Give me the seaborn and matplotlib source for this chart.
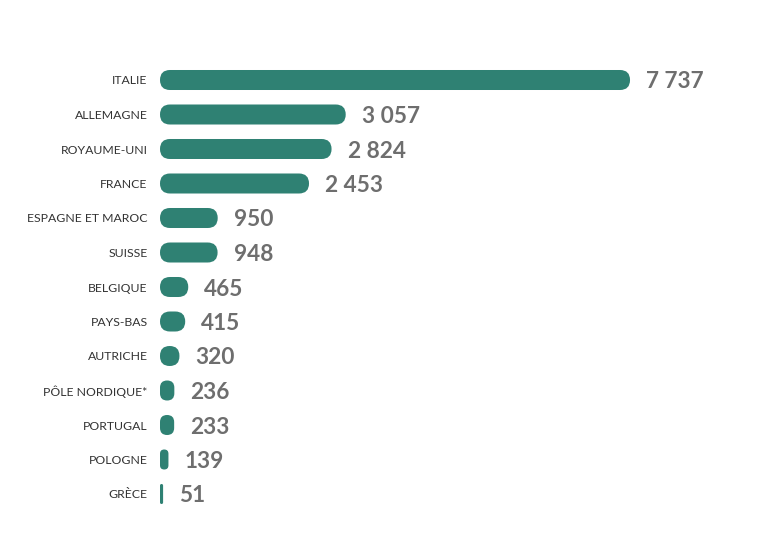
import matplotlib
matplotlib.use("Agg")
import matplotlib.pyplot as plt
from matplotlib.patches import FancyBboxPatch
import seaborn as sns
import pandas as pd

countries = ["ITALIE", "ALLEMAGNE", "ROYAUME-UNI", "FRANCE", "ESPAGNE ET MAROC",
             "SUISSE", "BELGIQUE", "PAYS-BAS", "AUTRICHE", "PÔLE NORDIQUE*",
             "PORTUGAL", "POLOGNE", "GRÈCE"]
values = [7737, 3057, 2824, 2453, 950, 948, 465, 415, 320, 236, 233, 139, 51]

df = pd.DataFrame({"country": countries, "value": values})

sns.set_theme(style="white")
plt.rcParams["font.family"] = ["Lato", "DejaVu Sans"]

BAR = "#2f8173"
fig = plt.figure(figsize=(7.78, 5.40), dpi=100)
ax = fig.add_axes([160 / 778, (540 - 511.25) / 540, 607.5 / 778, 448.5 / 540])

sns.barplot(data=df, y="country", x="value", color=BAR, width=0.58,
            saturation=1, ax=ax, orient="h")
ax.set_xlim(0, 10000)
ax.set_ylim(12.5, -0.5)

# replace rectangles with rounded ones
px_per_x = 607.5 / 10000
px_per_y = 448.5 / 13
aspect = (1 / px_per_y) / (1 / px_per_x)
r_full = 10 / px_per_x
rects = list(ax.patches)
for p in rects:
    x0, y0 = p.get_x(), p.get_y()
    w, h = p.get_width(), p.get_height()
    r = min(r_full, w / 2)
    fb = FancyBboxPatch((x0, y0), w, h,
                        boxstyle=f"round,pad=0,rounding_size={r}",
                        mutation_aspect=aspect, facecolor=BAR,
                        edgecolor="none", linewidth=0)
    p.remove()
    ax.add_patch(fb)

for i, v in enumerate(values):
    ax.annotate(f"{v:,}".replace(",", " "), xy=(v, i), xytext=(11.5, 0),
                textcoords="offset points", va="center_baseline", ha="left",
                fontsize=16.3, fontweight="bold", color="#6e6e6e")

ax.set_xlabel("")
ax.set_ylabel("")
ax.set_xticks([])
ax.tick_params(axis="y", length=0, pad=9, labelsize=8.8, labelcolor="#333333")
for s in ax.spines.values():
    s.set_visible(False)

fig.savefig("out.png", dpi=100)
